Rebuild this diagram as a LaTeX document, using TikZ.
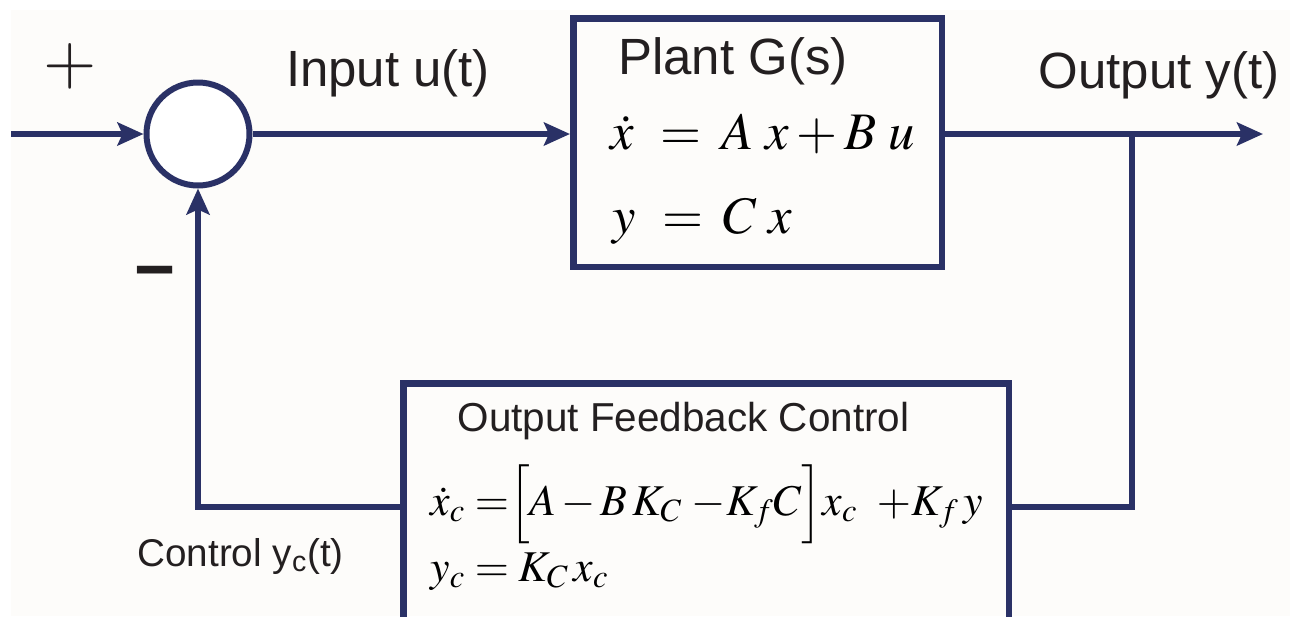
\documentclass[tikz,border=0pt]{standalone}
\usepackage{mathptmx}
\usepackage[no-math]{fontspec}
\setmainfont{Liberation Sans}
\usepackage{xcolor}
\usepackage{tikz}
\usetikzlibrary{positioning,arrows.meta}

\definecolor{navy}{RGB}{42,49,102}
\definecolor{ink}{RGB}{35,31,32}
\definecolor{paper}{RGB}{253,252,250}

\begin{document}
\begin{tikzpicture}[
  lbl/.style={text=ink, inner sep=0pt, font=\fontsize{29}{34}\selectfont},
  small/.style={lbl, font=\fontsize{23}{27}\selectfont},
  eqn/.style={text=black, inner sep=0pt, font=\fontsize{30}{34}\selectfont},
  ceqn/.style={eqn, font=\fontsize{25}{30}\selectfont},
  block/.style={draw=navy, line width=0.13cm, fill=none, inner sep=0pt},
  sumnode/.style={circle, draw=navy, line width=0.12cm, fill=white, minimum size=2.06cm, inner sep=0pt},
  arr/.style={-{Stealth[length=0.52cm, width=0.46cm, inset=0.1cm]}, navy, line width=0.11cm},
  wire/.style={navy, line width=0.11cm},
]
% Page and background
\clip (0,0) rectangle (25.8,-12.32);
\fill[white] (0,0) rectangle (25.8,-12.32);
\fill[paper] (0.22,-0.2) rectangle (25.8,-12.32);

% Blocks
\node[sumnode] (sum) at (3.96,-2.68) {};
\node[block, minimum width=7.37cm, minimum height=4.97cm] (plant) at (15.15,-2.85) {};
\node[block, minimum width=12.11cm, minimum height=6.27cm] (ctrl) at (14.12,-10.8) {};

% Free ends
\coordinate (in) at (0.22,-2.68);
\coordinate (out) at (25.26,-2.68);
\coordinate (tap) at (22.64,-2.68);
\coordinate (fb) at (22.64,-10.14);

% Forward path
\draw[arr] (in) -- (sum.west);
\draw[arr] (sum.east) -- (sum -| plant.west);
\draw[arr] (sum -| plant.east) -- (out);

% Feedback path
\draw[wire] (tap) -- (fb) -- (fb -| ctrl.east);
\draw[arr] (fb -| ctrl.west) -| (sum.south);

% Signs
\node[text=ink, inner sep=0pt, font=\fontsize{39}{40}\selectfont] (plus) at (1.4,-1.32) {$+$};
\node[text=ink, inner sep=0pt, font=\fontsize{40}{40}\selectfont\bfseries] (minus) at (3.1,-5.6) {−};

% Signal labels
\node[lbl, anchor=base] (ulbl) at (7.76,-1.72) {Input u(t)};
\node[lbl, anchor=base] (ylbl) at (23.18,-1.76) {Output y(t)};
\node[small, font=\fontsize{22}{26}\selectfont, anchor=base west] (yclbl) at (2.74,-11.32) {Control y\textsubscript{c}(t)};

% Plant
\node[lbl, anchor=base] (ptitle) at (14.66,-1.48) {Plant G(s)};
\node[eqn, anchor=base west] (peq1) at (12.2,-2.98) {$\dot{x}\mkern9mu{=}\mkern7mu A\;x + B\;u$};
\node[eqn, anchor=base west] (peq2) at (12.24,-4.66) {$y\mkern9mu{=}\mkern7mu C\;x$};

% Controller
\node[small, anchor=base] (ctitle) at (13.67,-8.62) {Output Feedback Control};
\node[ceqn, anchor=base west] (ceq1) at (8.6,-10.3) {$\dot{x}_c\;{=}\Big[A{\,-\,}B\,K_C\;{-}K_f C\Big]x_c\;\;{+}K_f\,y$};
\node[ceqn, anchor=base west] (ceq2) at (8.6,-11.62) {$y_c = K_C\,x_c$};
\end{tikzpicture}
\end{document}
